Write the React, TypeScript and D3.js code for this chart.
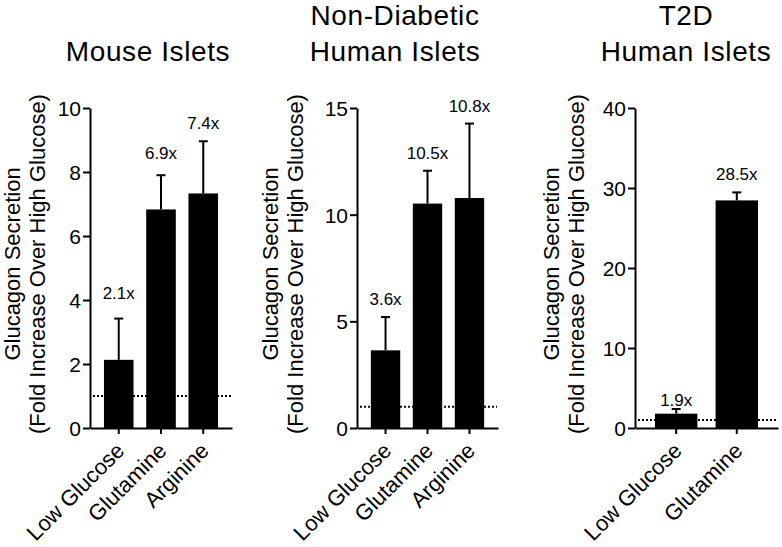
import React, { useRef, useEffect } from "react";
import * as d3 from "d3";

// Mouse islets
const mouseCategories = ["Low Glucose", "Glutamine", "Arginine"];
const mouseMeans = [2.13, 6.83, 7.33];
const mouseSem = [1.29, 1.07, 1.63];
const mouseFoldLabels = ["2.1x", "6.9x", "7.4x"];
const mouseTicks = [0, 2, 4, 6, 8, 10];

// Non-diabetic human islets
const ndCategories = ["Low Glucose", "Glutamine", "Arginine"];
const ndMeans = [3.64, 10.52, 10.78];
const ndSem = [1.56, 1.54, 3.49];
const ndFoldLabels = ["3.6x", "10.5x", "10.8x"];
const ndTicks = [0, 5, 10, 15];

// T2D human islets
const t2dCategories = ["Low Glucose", "Glutamine"];
const t2dMeans = [1.79, 28.45];
const t2dSem = [0.58, 1.0];
const t2dFoldLabels = ["1.9x", "28.5x"];
const t2dTicks = [0, 10, 20, 30, 40];

const highGlucoseLevel = 1;
const axisTitle = ["Glucagon Secretion", "(Fold Increase Over High Glucose)"];

const FONT = "'Liberation Sans', Arial, Helvetica, sans-serif";

const panels = [
  {
    title: ["Mouse Islets"],
    titleX: 148,
    x0: 90,
    x1: 232,
    labelX: [20, 45],
    categories: mouseCategories,
    means: mouseMeans,
    sem: mouseSem,
    fold: mouseFoldLabels,
    ticks: mouseTicks,
    lift: [20, 16, 12],
  },
  {
    title: ["Non-Diabetic", "Human Islets"],
    titleX: 395,
    x0: 357,
    x1: 498,
    labelX: [278, 303],
    categories: ndCategories,
    means: ndMeans,
    sem: ndSem,
    fold: ndFoldLabels,
    ticks: ndTicks,
    lift: [12, 12, 12],
  },
  {
    title: ["T2D", "Human Islets"],
    titleX: 686,
    x0: 635,
    x1: 778,
    labelX: [559, 584],
    categories: t2dCategories,
    means: t2dMeans,
    sem: t2dSem,
    fold: t2dFoldLabels,
    ticks: t2dTicks,
    lift: [3, 12],
  },
];

const App = () => {
  const svgRef = useRef<SVGSVGElement | null>(null);

  useEffect(() => {
    if (!svgRef.current) return;
    const svg = d3.select(svgRef.current);
    svg.selectAll("*").remove();

    const yTop = 108;
    const yBottom = 428;

    panels.forEach((p) => {
      const g = svg.append("g");
      const maxTick = d3.max(p.ticks) || 1;

      const y = d3.scaleLinear().domain([0, maxTick]).range([yBottom, yTop]);
      const x = d3
        .scaleBand<string>()
        .domain(p.categories)
        .range([p.x0, p.x1])
        .paddingInner(0.3)
        .paddingOuter(0.33);

      // title
      const titleBase = p.title.length === 1 ? [61] : [25, 61];
      p.title.forEach((t, i) => {
        g.append("text")
          .attr("x", p.titleX)
          .attr("y", titleBase[i])
          .attr("text-anchor", "middle")
          .style("font-family", FONT)
          .style("font-size", "28px")
          .style("letter-spacing", "0.6px")
          .attr("fill", "#000")
          .text(t);
      });

      // y axis title (two lines)
      const midY = (yTop + yBottom) / 2 - 4;
      axisTitle.forEach((t, i) => {
        g.append("text")
          .attr("transform", `translate(${p.labelX[i]},${midY}) rotate(-90)`)
          .attr("text-anchor", "middle")
          .style("font-family", FONT)
          .style("font-size", "22px")
          .attr("fill", "#000")
          .text(t);
      });

      // bars
      g.selectAll(".bar")
        .data(p.means)
        .enter()
        .append("rect")
        .attr("class", "bar")
        .attr("x", (_, i) => x(p.categories[i]) || 0)
        .attr("width", x.bandwidth())
        .attr("y", (d) => y(d))
        .attr("height", (d) => yBottom - y(d))
        .attr("fill", "#000");

      // error bars (upper only)
      p.means.forEach((m, i) => {
        const cx = (x(p.categories[i]) || 0) + x.bandwidth() / 2;
        const top = y(m + p.sem[i]);
        g.append("line")
          .attr("x1", cx)
          .attr("x2", cx)
          .attr("y1", y(m))
          .attr("y2", top)
          .attr("stroke", "#000")
          .attr("stroke-width", 2);
        g.append("line")
          .attr("x1", cx - 4.5)
          .attr("x2", cx + 4.5)
          .attr("y1", top)
          .attr("y2", top)
          .attr("stroke", "#000")
          .attr("stroke-width", 2);

        // fold change label
        g.append("text")
          .attr("x", cx)
          .attr("y", top - p.lift[i])
          .attr("text-anchor", "middle")
          .style("font-family", FONT)
          .style("font-size", "17px")
          .attr("fill", "#000")
          .text(p.fold[i]);
      });

      // dotted reference at high glucose level
      g.append("line")
        .attr("x1", p.x0 + 3)
        .attr("x2", p.x1 - 1)
        .attr("y1", y(highGlucoseLevel))
        .attr("y2", y(highGlucoseLevel))
        .attr("stroke", "#000")
        .attr("stroke-width", 2)
        .attr("stroke-dasharray", "2,2");

      // Y axis
      g.append("g")
        .attr("transform", `translate(${p.x0},0)`)
        .call(d3.axisLeft(y).tickValues(p.ticks).tickSize(7).tickSizeOuter(0))
        .call((a) => a.selectAll("path,line").attr("stroke", "#000").attr("stroke-width", 2))
        .selectAll("text")
        .attr("x", -9)
        .attr("dy", "0.36em")
        .style("font-family", FONT)
        .style("font-size", "21px")
        .attr("fill", "#000");

      // X axis
      g.append("g")
        .attr("transform", `translate(0,${yBottom})`)
        .call(d3.axisBottom(x).tickSize(6).tickSizeOuter(0))
        .call((a) => a.selectAll("path,line").attr("stroke", "#000").attr("stroke-width", 2))
        .selectAll("text")
        .attr("x", 0)
        .attr("y", 0)
        .attr("dy", "0")
        .attr("text-anchor", "end")
        .attr("transform", "translate(7,24) rotate(-45)")
        .style("font-family", FONT)
        .style("font-size", "22px")
        .attr("fill", "#000");
    });
  }, []);

  return (
    <svg
      ref={svgRef}
      width={782}
      height={547}
      style={{ position: "absolute", left: 0, top: 0, background: "#fff" }}
    />
  );
};

export default App;
